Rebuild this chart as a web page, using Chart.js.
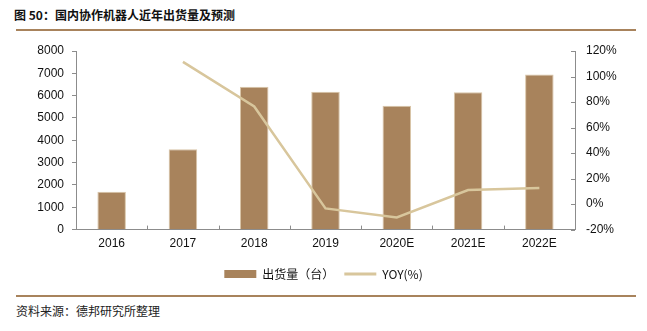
<!DOCTYPE html>
<html>
<head>
<meta charset="utf-8">
<script src="https://cdn.jsdelivr.net/npm/chart.js@4/dist/chart.umd.min.js"></script>
<style>
  html, body { margin: 0; padding: 0; background: #fff; }
  body { width: 647px; height: 331px; position: relative; overflow: hidden; }
  #title {
    position: absolute; left: 14px; top: 6px;
    font: bold 12px "Noto Sans CJK SC", sans-serif; color: #111;
  }
  .rule { position: absolute; left: 16px; width: 620px; height: 2px; background: #a8835c; }
  #source {
    position: absolute; left: 16px; top: 302px;
    font: 12px "Noto Sans CJK SC", sans-serif; color: #222;
  }
  #wrap { position: absolute; left: 0; top: 0; width: 647px; height: 290px; }
</style>
</head>
<body>
<div id="title">图 50：国内协作机器人近年出货量及预测</div>
<div class="rule" style="top:29px"></div>
<div id="wrap"><canvas id="chart"></canvas></div>
<div class="rule" style="top:295px"></div>
<div id="source">资料来源：德邦研究所整理</div>
<script>
// ── data ──
const years = ["2016", "2017", "2018", "2019", "2020E", "2021E", "2022E"];
const shipments = [1700, 3600, 6400, 6180, 5550, 6150, 6950];
const yoy = [null, 111.5, 76.5, -3.4, -10.5, 11.0, 12.7];

const BAR = "#a8835c";
const LINE = "#d8c69c";
const AXIS = "#8c8c8c";

// inward ticks for the x axis and the right axis
const innerTicks = {
  id: "innerTicks",
  afterDraw(chart) {
    const { ctx, chartArea: a, scales } = chart;
    ctx.save();
    ctx.strokeStyle = AXIS;
    ctx.lineWidth = 1;
    ctx.beginPath();
    const x = scales.x;
    for (let i = 1; i < years.length; i++) {
      const px = Math.round((x.getPixelForValue(i - 1) + x.getPixelForValue(i)) / 2) + 0.5;
      ctx.moveTo(px, a.bottom);
      ctx.lineTo(px, a.bottom - 4);
    }
    const y1 = scales.y1;
    y1.ticks.forEach((t) => {
      const py = Math.round(y1.getPixelForValue(t.value)) + 0.5;
      ctx.moveTo(a.right, py);
      ctx.lineTo(a.right - 4, py);
    });
    ctx.stroke();
    ctx.restore();
  },
};

const tickFont = { family: "'Liberation Sans', Arial, sans-serif", size: 12 };

new Chart(document.getElementById("chart"), {
  data: {
    labels: years,
    datasets: [
      {
        type: "line",
        label: "YOY(%)",
        data: yoy,
        yAxisID: "y1",
        borderColor: LINE,
        backgroundColor: LINE,
        borderWidth: 2.5,
        pointRadius: 0,
        tension: 0,
        order: 0,
      },
      {
        type: "bar",
        label: "出货量（台）",
        data: shipments,
        yAxisID: "y",
        backgroundColor: BAR,
        borderColor: "#d9c5a8",
        borderWidth: 1,
        categoryPercentage: 0.8,
        barPercentage: 0.5,
        order: 1,
      },
    ],
  },
  options: {
    responsive: true,
    maintainAspectRatio: false,
    animation: false,
    layout: { padding: { top: 51, left: 0, right: 0, bottom: 0 } },
    scales: {
      x: {
        grid: { display: false, drawTicks: false, tickLength: 0 },
        border: { color: AXIS },
        ticks: { color: "#111", font: tickFont, padding: 7 },
      },
      y: {
        position: "left",
        min: 0,
        max: 8000,
        grid: { drawOnChartArea: false, color: AXIS, tickLength: 4 },
        border: { color: AXIS },
        ticks: { stepSize: 1000, color: "#111", font: tickFont, padding: 8, callback: (v) => String(v) },
        afterFit(s) { s.width = 76; },
      },
      y1: {
        position: "right",
        min: -20,
        max: 120,
        grid: { display: false, drawTicks: false, tickLength: 0 },
        border: { color: AXIS },
        ticks: {
          stepSize: 20,
          color: "#111",
          font: tickFont,
          padding: 11,
          callback: (v) => v + "%",
        },
        afterFit(s) { s.width = 72; },
      },
    },
    plugins: {
      tooltip: { enabled: false },
      legend: {
        position: "bottom",
        reverse: true,
        labels: {
          color: "#111",
          font: { family: "'Noto Sans CJK SC', 'Liberation Sans', sans-serif", size: 12 },
          usePointStyle: true,
          pointStyleWidth: 32,
          boxHeight: 8,
          padding: 10,
          generateLabels(chart) {
            return chart.data.datasets.map((ds, i) => ({
              text: ds.label,
              fillStyle: ds.backgroundColor,
              strokeStyle: ds.type === "line" ? ds.borderColor : ds.backgroundColor,
              lineWidth: ds.type === "line" ? 3 : 0,
              pointStyle: ds.type === "line" ? "line" : "rect",
              fontColor: "#111",
              datasetIndex: i,
              hidden: false,
            }));
          },
        },
      },
    },
  },
  plugins: [innerTicks],
});
</script>
</body>
</html>
